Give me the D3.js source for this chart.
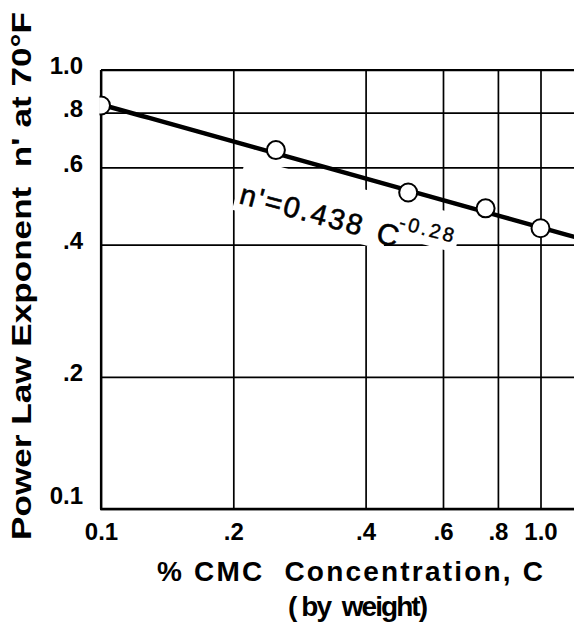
<!DOCTYPE html>
<html>
<head>
<meta charset="utf-8">
<script src="https://cdn.jsdelivr.net/npm/d3@7"></script>
<style>
  html, body { margin: 0; padding: 0; background: #fff; }
  svg { display: block; }
  text { white-space: pre; }
</style>
</head>
<body>
<svg id="chart" width="574" height="636"></svg>
<script>
// CMC concentration (% by weight) and measured power-law exponent n'
const concentration = [0.1, 0.25, 0.5, 0.75, 1.0];
const nPrime = [0.83, 0.657, 0.526, 0.484, 0.436];

// Fitted correlation n' = a * C^b
const fitCoef = 0.438;
const fitExp = -0.28;

const xTickValues = [0.1, 0.2, 0.4, 0.6, 0.8, 1.0];
const xTickLabels = ["0.1", ".2", ".4", ".6", ".8", "1.0"];
const yTickValues = [0.1, 0.2, 0.4, 0.6, 0.8, 1.0];
const yTickLabels = ["0.1", ".2", ".4", ".6", ".8", "1.0"];

(function draw() {
  const svg = d3.select("#chart");
  const ink = "#000";
  const tickFont = "'Liberation Sans', Arial, sans-serif";

  // log-log frame, one decade = same length on both axes
  const plotLeft = 101, plotBottom = 509, plotTop = 70, decade = 439.5;
  const xMax = 1.25;
  const x = d3.scaleLog().domain([0.1, 1.0]).range([plotLeft, plotLeft + decade]);
  const y = d3.scaleLog().domain([0.1, 1.0]).range([plotBottom, plotTop]);
  const plotRight = x(xMax);

  const defs = svg.append("defs");
  defs.append("clipPath").attr("id", "plotClip")
    .append("rect").attr("x", plotLeft - 1.5).attr("y", plotTop - 12)
    .attr("width", plotRight - plotLeft + 2).attr("height", plotBottom - plotTop + 14);

  // horizontal grid + y tick labels
  const yAxis = d3.axisLeft(y)
    .tickValues(yTickValues)
    .tickFormat((d, i) => yTickLabels[i])
    .tickSizeInner(-(plotRight - plotLeft))
    .tickSizeOuter(0)
    .tickPadding(18);
  const gy = svg.append("g").attr("transform", `translate(${plotLeft},0)`).call(yAxis);
  gy.select(".domain").remove();
  gy.selectAll(".tick line").attr("stroke", ink).attr("stroke-width", 1.7);
  gy.selectAll(".tick text")
    .attr("fill", ink)
    .style("font-family", tickFont)
    .style("font-size", "24px")
    .style("font-weight", "bold")
    .attr("transform", d => `translate(0,${d === 0.1 ? -13 : -4})`);

  // vertical grid + x tick labels
  const xAxis = d3.axisBottom(x)
    .tickValues(xTickValues)
    .tickFormat((d, i) => xTickLabels[i])
    .tickSizeInner(-(plotBottom - plotTop))
    .tickSizeOuter(0)
    .tickPadding(14);
  const gx = svg.append("g").attr("transform", `translate(0,${plotBottom})`).call(xAxis);
  gx.select(".domain").remove();
  gx.selectAll(".tick line").attr("stroke", ink).attr("stroke-width", 1.7);
  gx.selectAll(".tick text")
    .attr("fill", ink)
    .style("font-family", tickFont)
    .style("font-size", "24px")
    .style("font-weight", "bold");

  // frame: left, top and bottom edges
  svg.append("line").attr("x1", plotLeft).attr("x2", plotLeft).attr("y1", plotTop).attr("y2", plotBottom)
    .attr("stroke", ink).attr("stroke-width", 2.2);
  svg.append("line").attr("x1", plotLeft).attr("x2", plotRight).attr("y1", plotTop).attr("y2", plotTop)
    .attr("stroke", ink).attr("stroke-width", 2);
  svg.append("line").attr("x1", plotLeft - 1).attr("x2", plotRight).attr("y1", plotBottom).attr("y2", plotBottom)
    .attr("stroke", ink).attr("stroke-width", 2.6);

  // equation label, set along the fitted line
  const labelX = 238, labelY = 203, labelAngle = 15;
  const eq = svg.append("g").attr("transform", `translate(${labelX},${labelY}) rotate(${labelAngle})`);
  // white ground behind the label breaks the grid lines
  eq.append("rect").attr("x", -4).attr("y", -46).attr("width", 156).attr("height", 54).attr("fill", "#fff");
  eq.append("rect").attr("x", 150).attr("y", -46).attr("width", 72).attr("height", 38).attr("fill", "#fff");

  // fitted power law
  const fitPts = d3.range(0, 61).map(i => 0.1 * Math.pow(xMax / 0.1, i / 60));
  const line = d3.line().x(d => x(d)).y(d => y(fitCoef * Math.pow(d, fitExp)));
  svg.append("path").datum(fitPts).attr("d", line)
    .attr("fill", "none").attr("stroke", ink).attr("stroke-width", 4.5);

  // measured points
  svg.append("g").attr("clip-path", "url(#plotClip)")
    .selectAll("circle").data(concentration).join("circle")
    .attr("cx", d => x(d))
    .attr("cy", (d, i) => y(nPrime[i]))
    .attr("r", 9)
    .attr("fill", "#fff").attr("stroke", ink).attr("stroke-width", 2);

  const eqFont = "'Liberation Sans', Arial, sans-serif";
  eq.append("text").attr("x", 0).attr("y", 0)
    .attr("textLength", 126).attr("lengthAdjust", "spacing")
    .style("font-family", eqFont).style("font-size", "29px").attr("fill", ink)
    .attr("stroke", ink).attr("stroke-width", 0.6)
    .text("n'=0.438");
  eq.append("text").attr("x", 142).attr("y", 2)
    .style("font-family", eqFont).style("font-size", "30px").attr("fill", ink)
    .attr("stroke", ink).attr("stroke-width", 0.6)
    .text("C");
  eq.append("text").attr("x", 161).attr("y", -17)
    .attr("textLength", 56).attr("lengthAdjust", "spacing")
    .style("font-family", eqFont).style("font-size", "20px").attr("fill", ink)
    .attr("stroke", ink).attr("stroke-width", 0.4)
    .text("-0.28");

  // axis titles
  const titleFont = "'Liberation Sans', Arial, sans-serif";
  svg.append("text")
    .attr("transform", "translate(31,276) rotate(-90)")
    .attr("text-anchor", "middle")
    .attr("textLength", 528).attr("lengthAdjust", "spacingAndGlyphs")
    .style("font-family", titleFont).style("font-size", "28px").style("font-weight", "bold")
    .attr("fill", ink)
    .text("Power Law Exponent  n' at 70°F");

  svg.append("text")
    .attr("x", 350).attr("y", 581)
    .attr("text-anchor", "middle")
    .attr("textLength", 386).attr("lengthAdjust", "spacing")
    .style("font-family", titleFont).style("font-size", "28px").style("font-weight", "bold")
    .attr("fill", ink)
    .text("% CMC  Concentration, C");

  svg.append("text")
    .attr("x", 358).attr("y", 616)
    .attr("text-anchor", "middle")
    .attr("textLength", 140).attr("lengthAdjust", "spacing")
    .style("font-family", titleFont).style("font-size", "28px").style("font-weight", "bold")
    .attr("fill", ink)
    .text("( by  weight)");
})();
</script>
</body>
</html>
